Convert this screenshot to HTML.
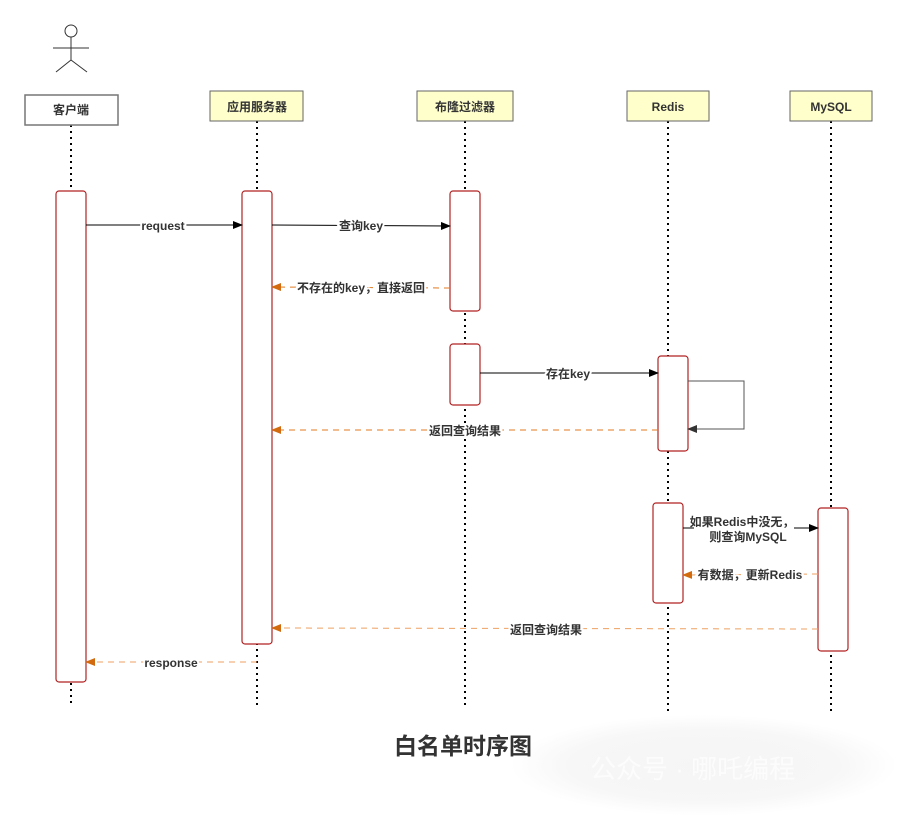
<!DOCTYPE html>
<html><head><meta charset="utf-8"><style>
html,body{margin:0;padding:0;background:#fff;width:897px;height:816px;overflow:hidden}
svg{display:block}
text{font-family:"Liberation Sans","Noto Sans CJK SC",sans-serif;font-size:12px;fill:#333;font-weight:bold}
.lbl{paint-order:stroke;stroke:#fff;stroke-width:4px}
</style></head><body>
<svg width="897" height="816" viewBox="0 0 897 816" xmlns="http://www.w3.org/2000/svg">
<defs>
<marker id="ab" markerWidth="10" markerHeight="8" refX="9" refY="4" orient="auto" markerUnits="userSpaceOnUse"><path d="M0,0 L10,4 L0,8 Z" fill="#000"/></marker>
<marker id="ao" markerWidth="10" markerHeight="8" refX="9" refY="4" orient="auto" markerUnits="userSpaceOnUse"><path d="M0,0 L10,4 L0,8 Z" fill="#d26a10"/></marker>
<marker id="ag" markerWidth="10" markerHeight="8" refX="9" refY="4" orient="auto" markerUnits="userSpaceOnUse"><path d="M0,0 L10,4 L0,8 Z" fill="#333"/></marker>
<radialGradient id="wm" cx="50%" cy="50%" r="50%"><stop offset="0" stop-color="#f5f5f5"/><stop offset="0.7" stop-color="#f7f7f7"/><stop offset="1" stop-color="#fff"/></radialGradient>
</defs>
<rect x="510" y="715" width="387" height="101" fill="url(#wm)"/>
<text x="590" y="778" style="font-size:26px;font-weight:normal;fill:#fcfcfc">公众号 · 哪吒编程</text>
<g stroke="#333" stroke-width="1" fill="none">
<circle cx="71" cy="31" r="6" fill="#fff"/>
<line x1="71" y1="37" x2="71" y2="60"/><line x1="53" y1="48" x2="89" y2="48"/>
<line x1="71" y1="60" x2="56" y2="72"/><line x1="71" y1="60" x2="87" y2="72"/>
</g>
<g stroke="#000" stroke-width="2" stroke-dasharray="2,4">
<line x1="71" y1="125" x2="71" y2="705"/>
<line x1="257" y1="121" x2="257" y2="705"/>
<line x1="465" y1="121" x2="465" y2="705"/>
<line x1="668" y1="121" x2="668" y2="712"/>
<line x1="831" y1="121" x2="831" y2="712"/>
</g>
<rect x="25" y="95" width="93" height="30" fill="#fff" stroke="#777" stroke-width="1.5"/>
<text x="71" y="114" text-anchor="middle">客户端</text>
<g fill="#ffffcc" stroke="#666" stroke-width="1">
<rect x="210" y="91" width="93" height="30"/><rect x="417" y="91" width="96" height="30"/>
<rect x="627" y="91" width="82" height="30"/><rect x="790" y="91" width="82" height="30"/>
</g>
<text x="257" y="111" text-anchor="middle">应用服务器</text>
<text x="465" y="111" text-anchor="middle">布隆过滤器</text>
<text x="668" y="111" text-anchor="middle">Redis</text>
<text x="831" y="111" text-anchor="middle">MySQL</text>
<g fill="#fff" stroke="#b22222" stroke-width="1.2">
<rect x="56" y="191" width="30" height="491" rx="3"/>
<rect x="242" y="191" width="30" height="453" rx="3"/>
<rect x="450" y="191" width="30" height="120" rx="3"/>
<rect x="450" y="344" width="30" height="61" rx="3"/>
<rect x="658" y="356" width="30" height="95" rx="3"/>
<rect x="653" y="503" width="30" height="100" rx="3"/>
<rect x="818" y="508" width="30" height="143" rx="3"/>
</g>
<g stroke-width="1" fill="none">
<line x1="86" y1="225" x2="242" y2="225" stroke="#000" marker-end="url(#ab)"/>
<line x1="272" y1="225" x2="450" y2="226" stroke="#000" marker-end="url(#ab)"/>
<line x1="450" y1="288" x2="272" y2="287" stroke="#e07a20" stroke-dasharray="6,5" marker-end="url(#ao)"/>
<line x1="480" y1="373" x2="658" y2="373" stroke="#000" marker-end="url(#ab)"/>
<path d="M688,381 H744 V429 H688" stroke="#555" marker-end="url(#ag)"/>
<line x1="658" y1="430" x2="272" y2="430" stroke="#e07a20" stroke-dasharray="6,5" marker-end="url(#ao)"/>
<line x1="683" y1="528" x2="818" y2="528" stroke="#000" marker-end="url(#ab)"/>
<line x1="818" y1="574" x2="683" y2="575" stroke="#eda060" stroke-dasharray="6,5" marker-end="url(#ao)"/>
<line x1="818" y1="629" x2="272" y2="628" stroke="#eda060" stroke-dasharray="6,5" marker-end="url(#ao)"/>
<line x1="257" y1="662" x2="86" y2="662" stroke="#eda060" stroke-dasharray="6,5" marker-end="url(#ao)"/>
</g>
<rect x="694" y="512" width="100" height="34" fill="#fff"/>
<text class="lbl" x="163" y="230" text-anchor="middle">request</text>
<text class="lbl" x="361" y="230" text-anchor="middle">查询key</text>
<text class="lbl" x="361" y="292" text-anchor="middle">不存在的key，直接返回</text>
<text class="lbl" x="568" y="378" text-anchor="middle">存在key</text>
<text class="lbl" x="465" y="435" text-anchor="middle">返回查询结果</text>
<text x="742" y="526" text-anchor="middle">如果Redis中没无，</text>
<text x="748" y="541" text-anchor="middle">则查询MySQL</text>
<text class="lbl" x="750" y="579" text-anchor="middle">有数据，更新Redis</text>
<text class="lbl" x="546" y="634" text-anchor="middle">返回查询结果</text>
<text class="lbl" x="171" y="667" text-anchor="middle">response</text>
<text x="463" y="754" text-anchor="middle" style="font-size:23px;fill:#333">白名单时序图</text>
</svg>
</body></html>
